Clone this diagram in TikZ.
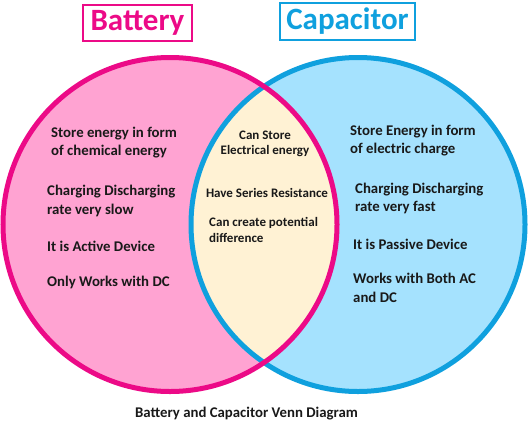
\documentclass[tikz,border=0pt]{standalone}
\usepackage{fontspec}
\setmainfont{Carlito}
\usetikzlibrary{positioning}
\usepackage{xcolor}
\definecolor{BatPink}{RGB}{236,10,135}
\definecolor{BatFill}{RGB}{255,163,210}
\definecolor{CapBlue}{RGB}{15,160,222}
\definecolor{CapFill}{RGB}{165,226,254}
\definecolor{MidFill}{RGB}{255,242,212}
\definecolor{TextDark}{RGB}{25,25,25}

\begin{document}
\begin{tikzpicture}[
x=1pt,y=-1pt,
fact/.style={anchor=west,align=left,text=TextDark,inner sep=0pt,
font=\bfseries\fontsize{14.8}{18.5}\selectfont},
common/.style={align=center,text=TextDark,inner sep=0pt,
font=\bfseries\fontsize{13}{15.5}\selectfont},
title/.style={rectangle,line width=2.6pt,inner sep=0pt,
font=\bfseries\fontsize{31}{31}\selectfont}
]
\useasboundingbox (0,0) rectangle (529,426);
\coordinate (bat) at (170,224.5);
\coordinate (cap) at (358,224.5);

% circles
\fill[BatFill] (bat) circle[radius=167pt];
\fill[CapFill] (cap) circle[radius=167pt];
\begin{scope}
\clip (bat) circle[radius=167pt];
\fill[MidFill] (cap) circle[radius=167pt];
\end{scope}
\draw[CapBlue,line width=5pt] (cap) circle[radius=167pt];
\draw[BatPink,line width=5pt] (bat) circle[radius=167pt];

% titles
\node[title,draw=BatPink,text=BatPink,minimum width=109pt,minimum height=36pt] (battery) at (137.5,23) {Battery};
\node[title,draw=CapBlue,text=CapBlue,minimum width=135pt,minimum height=37pt] (capacitor) at (347.5,21.5) {Capacitor};

% battery only
\node[fact] (bstore) at (51,142.5) {Store energy in form\\of chemical energy};
\node[fact] (brate) at (47,201) {Charging Discharging\\rate very slow};
\node[fact] (bactive) at (47,246) {It is Active Device};
\node[fact] (bdc) at (47,282) {Only Works with DC};

% both
\node[common] (mstore) at (265,144) {Can Store\\Electrical energy};
\node[common] (mres) at (267,193) {Have Series Resistance};
\node[common,anchor=west,align=left] (mpot) at (209,230) {Can create potential\\difference};

% capacitor only
\node[fact] (cstore) at (350,140.5) {Store Energy in form\\of electric charge};
\node[fact] (crate) at (355,198.5) {Charging Discharging\\rate very fast};
\node[fact] (cpassive) at (353,244) {It is Passive Device};
\node[fact] (cacdc) at (353,288) {Works with Both AC\\and DC};

% caption
\node[fact,anchor=center] (caption) at (246.5,414) {Battery and Capacitor Venn Diagram};
\end{tikzpicture}
\end{document}
